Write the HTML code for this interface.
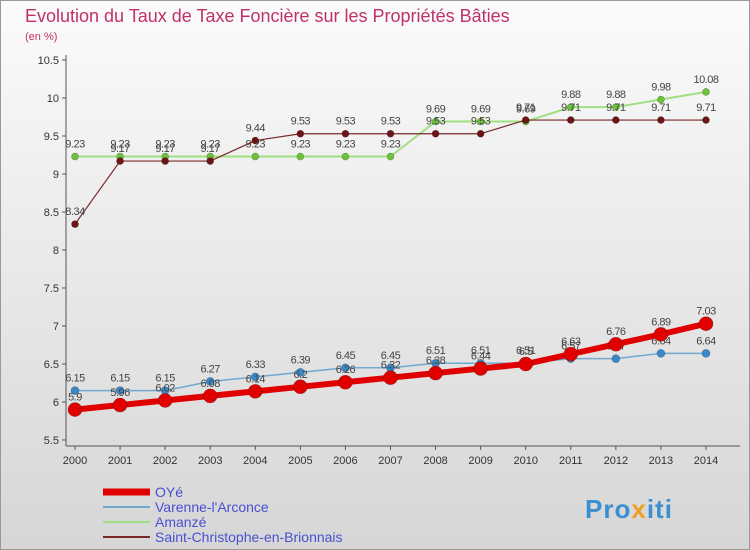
<!DOCTYPE html>
<html><head><meta charset="utf-8"><style>
body{margin:0;width:750px;height:550px;overflow:hidden;font-family:"Liberation Sans",sans-serif}
</style></head><body>
<svg width="750" height="550" xmlns="http://www.w3.org/2000/svg" style="display:block">
<defs>
<linearGradient id="bg" x1="0" y1="0" x2="0" y2="1"><stop offset="0" stop-color="#fbfbfb"/><stop offset="1" stop-color="#d6d6d6"/></linearGradient>
</defs>
<rect x="0.5" y="0.5" width="749" height="549" fill="url(#bg)" stroke="#999"/>
<text x="25" y="22" font-size="18" fill="#c0306a">Evolution du Taux de Taxe Foncière sur les Propriétés Bâties</text>
<text x="25" y="40" font-size="11" fill="#c0306a">(en %)</text>
<g id="axes"></g>
<g id="series"></g>
<g id="legend"></g>
<text x="585" y="518" font-size="26" font-weight="bold" fill="#3a8fd0" letter-spacing="1">Pro<tspan fill="#f0a020">x</tspan>iti</text>
</svg>
<script>
const years=[2000,2001,2002,2003,2004,2005,2006,2007,2008,2009,2010,2011,2012,2013,2014];
const yTicks=[5.5,6,6.5,7,7.5,8,8.5,9,9.5,10,10.5];
const oye=[5.9,5.96,6.02,6.08,6.14,6.2,6.26,6.32,6.38,6.44,6.5,6.63,6.76,6.89,7.03];
const varenne=[6.15,6.15,6.15,6.27,6.33,6.39,6.45,6.45,6.51,6.51,6.51,6.57,6.57,6.64,6.64];
const amanze=[9.23,9.23,9.23,9.23,9.23,9.23,9.23,9.23,9.69,9.69,9.69,9.88,9.88,9.98,10.08];
const stchristophe=[8.34,9.17,9.17,9.17,9.44,9.53,9.53,9.53,9.53,9.53,9.71,9.71,9.71,9.71,9.71];
const seriesNames=["OYé","Varenne-l'Arconce","Amanzé","Saint-Christophe-en-Brionnais"];

const NS="http://www.w3.org/2000/svg";
const X=i=>75+i*(706-75)/(years.length-1);
const Y=v=>440-(v-5.5)*76;
function mk(tag,attrs,parent){const e=document.createElementNS(NS,tag);for(const k in attrs)e.setAttribute(k,attrs[k]);parent.appendChild(e);return e;}
const axes=document.getElementById('axes');
const sg=document.getElementById('series');
const lg=document.getElementById('legend');

let a=mk('line',{x1:66,y1:55,x2:66,y2:446,stroke:'#555'},axes);

a=mk('line',{x1:66,y1:446,x2:740,y2:446,stroke:'#555'},axes);

yTicks.forEach(t=>{
 const l=mk('line',{x1:62,y1:Y(t),x2:66,y2:Y(t),stroke:'#555'},axes);
 
 const tx=mk('text',{x:59,y:Y(t)+4,'font-size':11,'text-anchor':'end',fill:'#333'},axes);
 tx.textContent=String(t);
 
});
years.forEach((yr,i)=>{
 const l=mk('line',{x1:X(i),y1:446,x2:X(i),y2:450,stroke:'#555'},axes);
 
 const tx=mk('text',{x:X(i),y:464,'font-size':11,'text-anchor':'middle',fill:'#333'},axes);
 tx.textContent=String(yr);
 
});
function draw(vals,name,line,lw,mark,r){
 const g=mk('g',{},sg);
 
 const p=mk('polyline',{points:vals.map((v,i)=>X(i)+','+Y(v)).join(' '),fill:'none',stroke:line,'stroke-width':lw,'stroke-linejoin':'round'},g);
 
 vals.forEach((v,i)=>{
  const c=mk('circle',{cx:X(i),cy:Y(v),r:r,fill:mark,stroke:'rgba(0,0,0,0.3)','stroke-width':0.6},g);
  
  const t=mk('text',{x:X(i),y:Y(v)-9,'font-size':11,'text-anchor':'middle',fill:'#444','letter-spacing':'-0.5'},g);
  t.textContent=String(v);
  
 });
}
draw(amanze,'amanze','#a0e080',2,'#6cc23a',3.5);
draw(stchristophe,'saint-christophe','#7a2a2a',1.2,'#6b1515',3.5);
draw(varenne,'varenne','#70a8d0',1.5,'#3a88c8',4);
draw(oye,'oye','#e00000',6,'#e00000',7);

const lcols=['#e00000','#70a8d0','#a0e080','#7a2a2a'];
const lw=[7,2,2,2];
seriesNames.forEach((n,i)=>{
 const y=492+i*15;
 const l=mk('line',{x1:103,y1:y,x2:150,y2:y,stroke:lcols[i],'stroke-width':lw[i]},lg);
 
 const t=mk('text',{x:155,y:y+5,'font-size':14,fill:'#4a50d0'},lg);
 t.textContent=n;
 
});
</script>
</body></html>
